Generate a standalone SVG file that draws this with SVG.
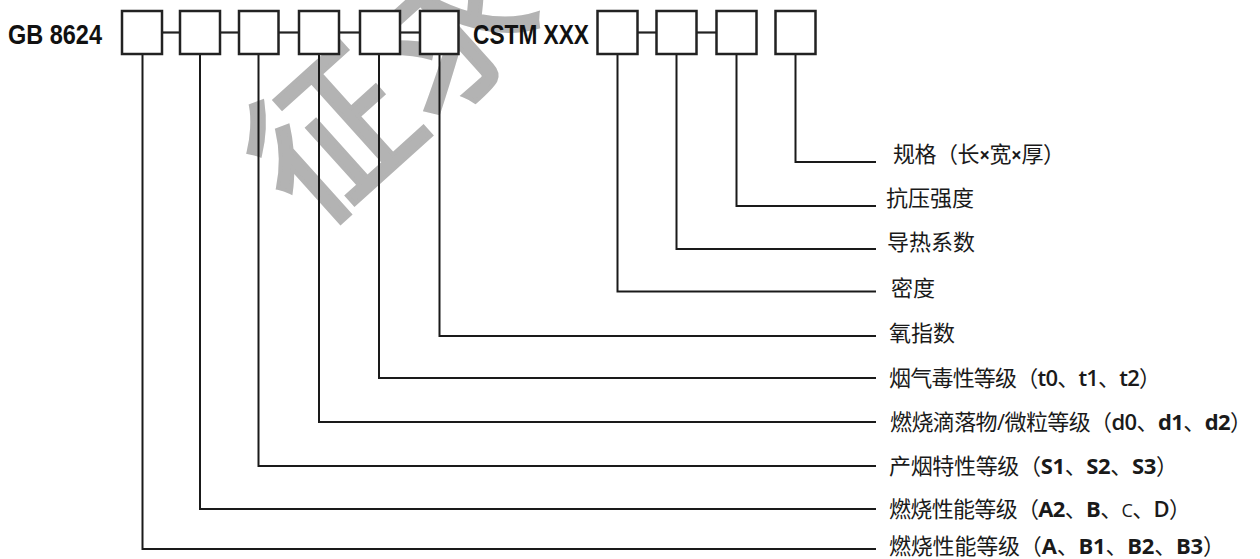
<svg xmlns="http://www.w3.org/2000/svg" width="1260" height="559" viewBox="0 0 1260 559">
<style>
.bg{fill:#ffffff}
.wm{fill:#b3b3b3;stroke:#b3b3b3;stroke-width:4;stroke-linejoin:miter;font-family:"Noto Sans CJK SC",sans-serif;font-size:160px}
.box{fill:#ffffff;stroke:#222222;stroke-width:2.5}
.conn{fill:none;stroke:#222222;stroke-width:2.2}
.lead{fill:none;stroke:#1a1a1a;stroke-width:2}
.code{font-family:"Liberation Sans",Arial,sans-serif;font-weight:bold;font-size:27px;fill:#111111}
.lbl{font-family:"Noto Sans CJK SC",sans-serif;font-size:22px;fill:#1a1a1a}
.lat{font-family:"Open Sans","Liberation Sans",sans-serif}
.b{font-weight:bold}
.sb{font-weight:600}
</style>
<rect class="bg" x="0" y="0" width="1260" height="559"/>
<g id="watermark">
<text class="wm" transform="translate(311,232) rotate(-42)" x="0" y="0">征求</text>
</g>
<g id="connectors">
<line class="conn" x1="162" y1="32.5" x2="180" y2="32.5"/>
<line class="conn" x1="220" y1="32.5" x2="239" y2="32.5"/>
<line class="conn" x1="279" y1="32.5" x2="299" y2="32.5"/>
<line class="conn" x1="339" y1="32.5" x2="360" y2="32.5"/>
<line class="conn" x1="400" y1="32.5" x2="420" y2="32.5"/>
<line class="conn" x1="637.5" y1="32.5" x2="656.5" y2="32.5"/>
<line class="conn" x1="696.5" y1="32.5" x2="716.5" y2="32.5"/>
<polyline class="lead" points="142.5,54 142.5,549 876,549"/>
<polyline class="lead" points="200,54 200,509 876,509"/>
<polyline class="lead" points="258.5,54 258.5,466 876,466"/>
<polyline class="lead" points="319,54 319,422 876,422"/>
<polyline class="lead" points="379,54 379,378 876,378"/>
<polyline class="lead" points="439.5,54 439.5,336 876,336"/>
<polyline class="lead" points="617.5,54 617.5,291.5 876,291.5"/>
<polyline class="lead" points="676.5,54 676.5,249 876,249"/>
<polyline class="lead" points="736.5,54 736.5,206 876,206"/>
<polyline class="lead" points="795.5,54 795.5,162 876,162"/>
</g>
<g id="title-gb"><text class="code" x="8" y="44" textLength="94" lengthAdjust="spacingAndGlyphs">GB 8624</text></g>
<g id="title-cstm"><text class="code" x="473" y="44" textLength="116" lengthAdjust="spacingAndGlyphs">CSTM XXX</text></g>
<g id="box1"><rect class="box" x="122" y="11" width="40" height="43"/></g>
<g id="box2"><rect class="box" x="180" y="11" width="40" height="43"/></g>
<g id="box3"><rect class="box" x="239" y="11" width="39.5" height="43"/></g>
<g id="box4"><rect class="box" x="299" y="11" width="40" height="43"/></g>
<g id="box5"><rect class="box" x="360" y="11" width="40" height="43"/></g>
<g id="box6"><rect class="box" x="420" y="11" width="38.5" height="43"/></g>
<g id="box7"><rect class="box" x="597.5" y="11" width="40" height="43"/></g>
<g id="box8"><rect class="box" x="656.5" y="11" width="40" height="43"/></g>
<g id="box9"><rect class="box" x="716.5" y="11" width="40" height="43"/></g>
<g id="box10"><rect class="box" x="775.5" y="11" width="40" height="43"/></g>
<g id="label-size"><text class="lbl" x="893" y="162" textLength="172">规格（长<tspan class="lat b" font-size="19">×</tspan>宽<tspan class="lat b" font-size="19">×</tspan>厚）</text></g>
<g id="label-strength"><text class="lbl" x="886" y="205.5">抗压强度</text></g>
<g id="label-conductivity"><text class="lbl" x="887" y="250">导热系数</text></g>
<g id="label-density"><text class="lbl" x="891" y="295.5">密度</text></g>
<g id="label-oxygen"><text class="lbl" x="889" y="341">氧指数</text></g>
<g id="label-toxicity"><text class="lbl" x="889" y="386" textLength="272">烟气毒性等级（<tspan class="lat sb">t0</tspan>、<tspan class="lat sb">t1</tspan>、<tspan class="lat sb">t2</tspan>）</text></g>
<g id="label-droplets"><text class="lbl" x="890" y="430" textLength="362">燃烧滴落物<tspan class="lat">/</tspan>微粒等级（<tspan class="lat sb">d0</tspan>、<tspan class="lat b">d1</tspan>、<tspan class="lat b">d2</tspan>）</text></g>
<g id="label-smoke"><text class="lbl" x="889" y="474" textLength="289">产烟特性等级（<tspan class="lat b">S1</tspan>、<tspan class="lat b">S2</tspan>、<tspan class="lat b">S3</tspan>）</text></g>
<g id="label-fire2"><text class="lbl" x="889" y="517" textLength="302">燃烧性能等级（<tspan class="lat b">A2</tspan>、<tspan class="lat b">B</tspan>、<tspan class="lat" font-size="18">C</tspan>、<tspan class="lat sb">D</tspan>）</text></g>
<g id="label-fire1"><text class="lbl" x="889" y="554" textLength="336">燃烧性能等级（<tspan class="lat b">A</tspan>、<tspan class="lat b">B1</tspan>、<tspan class="lat b">B2</tspan>、<tspan class="lat b">B3</tspan>）</text></g>
</svg>
